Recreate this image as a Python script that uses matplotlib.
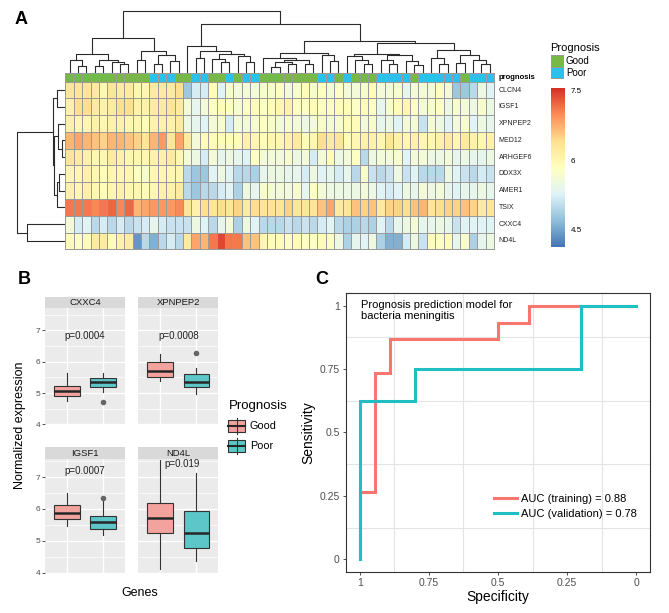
import numpy as np
import matplotlib
matplotlib.use('Agg')
import matplotlib.pyplot as plt
from matplotlib.colors import LinearSegmentedColormap, ListedColormap
from matplotlib.patches import Rectangle

plt.rcParams['font.family'] = ['Liberation Sans', 'DejaVu Sans']

W, H = 669, 613

# ---------------- panel A: heatmap data ----------------
genes = ['CLCN4', 'IGSF1', 'XPNPEP2', 'MED12', 'ARHGEF6', 'DDX3X', 'AMER1', 'TSIX', 'CXXC4', 'ND4L']
prognosis = ['Good'] * 10 + ['Poor'] * 3 + ['Good'] * 2 + ['Poor'] * 2 + ['Good'] * 2 + ['Poor'] + ['Good'] \
    + ['Poor'] * 2 + ['Good'] * 7 + ['Poor'] * 2 + ['Good'] + ['Poor'] + ['Good'] * 3 + ['Poor'] * 4 \
    + ['Good'] + ['Poor'] * 5 + ['Good'] + ['Poor'] * 3

clcn4 = [6.3, 6.3, 6.3, 6.2, 6.0, 6.3, 6.2, 6.2, 6.0, 6.0, 6.2, 6.2, 6.2, 6.4, 4.8, 5.2, 5.2,
         5.9, 5.3, 5.7, 5.6, 5.6, 5.6, 5.7, 5.7, 5.8, 5.6, 5.7, 5.9, 5.7, 5.8, 5.6, 5.8, 5.6,
         5.6, 5.7, 5.9, 5.6, 5.6, 5.7, 5.4, 5.6, 5.6, 5.6, 5.8, 5.6, 4.8, 4.8, 5.0, 5.5, 5.3]
igsf1 = [6.1, 6.4, 6.4, 6.2, 6.1, 6.2, 6.4, 6.4, 6.1, 6.1, 6.2, 6.2, 6.3, 6.2, 5.6, 5.4, 5.6,
         5.8, 5.9, 5.8, 5.7, 5.8, 5.9, 5.8, 5.9, 6.0, 6.1, 5.8, 5.8, 5.9, 5.8, 5.8, 5.9, 5.9,
         5.8, 5.9, 5.8, 5.4, 5.7, 5.9, 6.0, 5.8, 5.6, 5.7, 5.8, 5.5, 5.7, 5.6, 5.5, 5.7, 5.5]
xpnpep2 = [6.1, 6.0, 6.0, 6.1, 6.0, 6.1, 6.1, 6.0, 6.0, 5.9, 6.1, 6.1, 6.1, 6.2, 5.5, 5.4, 5.3,
           5.6, 5.7, 5.2, 5.6, 5.6, 5.7, 5.8, 5.7, 5.6, 5.7, 5.6, 5.5, 5.6, 5.7, 5.6, 5.7, 5.9,
           5.9, 5.6, 5.7, 5.4, 5.5, 5.3, 5.6, 5.6, 5.1, 5.6, 5.5, 5.3, 5.6, 5.7, 5.3, 5.5, 5.4]
med12 = [6.7, 6.8, 6.7, 6.6, 6.5, 6.7, 6.7, 6.6, 6.5, 6.3, 6.7, 6.9, 6.3, 6.8, 6.2, 5.6, 5.9,
         5.9, 5.9, 5.9, 5.9, 6.1, 6.0, 5.9, 6.0, 6.0, 6.1, 6.2, 5.9, 6.0, 6.4, 6.2, 6.3, 5.9,
         6.0, 6.1, 6.1, 6.0, 6.3, 6.1, 6.0, 6.1, 6.0, 6.0, 6.1, 6.2, 6.0, 6.2, 6.1, 6.0, 6.1]
arhgef6 = [6.3, 6.2, 6.1, 6.0, 6.0, 6.2, 6.1, 6.0, 6.0, 6.0, 6.1, 6.1, 6.2, 6.0, 5.6, 5.5, 5.2,
           5.6, 5.4, 5.5, 5.4, 5.3, 5.8, 5.6, 5.6, 5.6, 5.7, 5.5, 5.6, 5.2, 5.6, 5.9, 5.5, 5.6,
           5.8, 5.0, 5.5, 5.6, 5.6, 5.7, 5.3, 5.6, 5.6, 5.5, 5.5, 5.6, 5.4, 5.5, 5.4, 5.4, 5.5]
ddx3x = [6.0, 6.0, 6.1, 6.0, 5.9, 6.0, 6.0, 6.0, 5.8, 5.7, 6.0, 6.0, 6.0, 6.0, 5.0, 4.8, 4.8,
         5.3, 5.5, 5.3, 5.0, 5.0, 4.9, 5.4, 5.5, 5.5, 5.4, 5.4, 5.2, 5.5, 5.3, 5.4, 5.2, 5.4,
         5.0, 5.7, 5.1, 5.0, 5.1, 5.5, 5.1, 5.3, 5.0, 5.0, 5.0, 5.5, 5.3, 5.1, 5.0, 5.2, 5.1]
amer1 = [6.1, 6.0, 6.1, 6.0, 5.9, 6.0, 6.1, 6.0, 6.0, 5.9, 6.0, 6.1, 6.1, 6.2, 5.0, 4.8, 5.0,
         5.0, 5.2, 5.3, 4.9, 5.5, 5.4, 5.7, 5.6, 5.6, 5.6, 5.7, 5.4, 5.8, 5.6, 5.5, 5.5, 5.5,
         5.5, 5.6, 5.5, 5.3, 5.2, 5.3, 5.5, 5.4, 5.6, 5.5, 5.6, 5.4, 5.3, 5.4, 5.4, 5.5, 5.4]
tsix = [7.1, 7.1, 7.1, 7.0, 7.1, 7.2, 7.0, 7.2, 6.7, 6.8, 6.9, 6.9, 6.9, 7.0, 6.3, 6.1, 6.4,
        6.3, 6.4, 6.3, 6.5, 6.2, 6.4, 6.3, 6.3, 6.3, 6.5, 6.3, 6.3, 6.3, 6.6, 6.8, 6.2, 6.3,
        6.6, 6.5, 6.6, 6.2, 6.5, 6.5, 6.4, 6.6, 6.7, 6.3, 6.4, 6.5, 6.5, 6.6, 6.5, 6.2, 6.3]
cxxc4 = [5.6, 5.2, 5.3, 5.0, 5.2, 5.0, 5.2, 5.0, 5.1, 5.2, 5.4, 5.2, 5.1, 5.1, 5.1, 5.5, 5.3,
         5.0, 5.4, 5.6, 4.9, 5.5, 5.3, 5.0, 5.0, 5.0, 5.1, 5.0, 5.1, 5.0, 5.2, 5.3, 5.0, 4.9,
         4.9, 5.0, 4.9, 5.3, 5.0, 5.4, 5.5, 5.6, 5.4, 5.4, 5.5, 5.4, 5.1, 5.3, 5.3, 5.3, 5.3]
nd4l = [5.9, 5.8, 5.9, 6.2, 6.2, 5.9, 6.1, 6.2, 4.4, 5.0, 4.6, 5.0, 5.2, 5.0, 6.2, 6.8, 6.7,
        7.1, 7.4, 7.1, 7.1, 6.6, 6.6, 6.0, 5.9, 5.9, 5.8, 5.9, 5.8, 5.8, 5.9, 5.8, 5.5, 4.9,
        5.4, 5.3, 5.5, 4.9, 4.6, 4.6, 5.2, 5.5, 5.1, 5.9, 5.8, 5.9, 5.4, 5.7, 4.9, 5.4, 5.5]

# dendrograms: [left, right, merge height]
col_tree = [
    [[[0, [1, 2, 6.3], 12.7], [[3, 4, 6.3], [5, [6, 7, 8.7], 10.3], 12.7], 18.7],
     [[8, 9, 12], [[10, 11, 8.7], [12, 13, 11], 17.7], 21], 34.3],
    [[14, [[15, 16, 14.7], [[17, [18, 19, 10.3], 13.7], [20, [21, 22, 10.3], 16], 18.7], 21.3], 26],
     [[[23, [[[24, 25, 5.3], [26, 27, 8], 10.3], [28, 29, 8], 12.7], 14.7], [30, [31, 32, 11.3], 17], 19.3],
      [[[33, [34, [35, 36, 8], 12], 16], [[37, [38, 39, 8], 12], [40, [41, 42, 7], 11], 17], 18.7],
       [[43, [44, 45, 8], 14], [[46, 47, 9], [48, [49, 50, 8], 12], 17], 22], 29.3], 31.3], 48],
    61]
row_tree = [[[0, 1, 7.7], [[2, [3, 4, 3.3], 6.7], [[5, 6, 5.7], 7, 8.3], 10.7], 11.7], [8, 9, 38.3], 48.3]

# ---------------- panel B: boxplot data ----------------
box_genes = ['CXXC4', 'XPNPEP2', 'IGSF1', 'ND4L']
# low whisker, q1, median, q3, high whisker
good_stats = [[4.76, 4.89, 5.05, 5.21, 5.65],
              [5.39, 5.52, 5.71, 6.00, 6.23],
              [5.48, 5.70, 5.88, 6.13, 6.50],
              [4.13, 5.25, 5.72, 6.20, 7.55]]
poor_stats = [[5.02, 5.18, 5.36, 5.49, 5.65],
              [4.97, 5.20, 5.36, 5.62, 5.81],
              [5.18, 5.38, 5.60, 5.77, 6.27],
              [4.38, 4.78, 5.25, 5.95, 7.12]]
poor_outliers = [[4.71], [6.26], [6.33], []]
p_labels = ['p=0.0004', 'p=0.0008', 'p=0.0007', 'p=0.019']
p_x = [1.5, 1.5, 1.5, 1.6]
p_y = [6.83, 6.83, 7.18, 7.40]

# ---------------- panel C: ROC data ----------------
train_spec = [1, 1, 0.944, 0.944, 0.889, 0.889, 0.5, 0.5, 0.389, 0.389, 0]
train_sens = [0, 0.267, 0.267, 0.733, 0.733, 0.867, 0.867, 0.933, 0.933, 1, 1]
valid_spec = [1, 1, 0.8, 0.8, 0.2, 0.2, 0]
valid_sens = [0, 0.625, 0.625, 0.75, 0.75, 1, 1]

fig = plt.figure(figsize=(W / 100, H / 100), dpi=100)


def px_axes(x0, y0, x1, y1):
    return fig.add_axes([x0 / W, 1 - y1 / H, (x1 - x0) / W, (y1 - y0) / H])


def draw_tree(ax, node, vertical=True):
    if isinstance(node, int):
        return node + 0.5, 0.0
    left, right, h = node
    pl, hl = draw_tree(ax, left, vertical)
    pr, hr = draw_tree(ax, right, vertical)
    a = [pl, pl, pr, pr]
    b = [hl, h, h, hr]
    if vertical:
        ax.plot(a, b, color='#2b2b2b', lw=0.8)
    else:
        ax.plot(b, a, color='#2b2b2b', lw=0.8)
    return (pl + pr) / 2, h


# ================= A =================
cmap = LinearSegmentedColormap.from_list(
    'rdylbu', ['#4575B4', '#91BFDB', '#E0F3F8', '#FFFFBF', '#FEE090', '#FC8D59', '#D73027'])
vmin, vmax = 4.14, 7.54
expr = np.array([clcn4, igsf1, xpnpep2, med12, arhgef6, ddx3x, amer1, tsix, cxxc4, nd4l])
ncol = expr.shape[1]

ax_hm = px_axes(65.3, 81.7, 494, 249.3)
mesh = ax_hm.pcolormesh(expr, cmap=cmap, vmin=vmin, vmax=vmax, edgecolors='#9a9a9a', linewidth=0.7)
mesh.set_clip_on(False)
ax_hm.set_xlim(0, ncol)
ax_hm.set_ylim(len(genes), 0)
ax_hm.axis('off')
for i, g in enumerate(genes):
    ax_hm.text(ncol + 0.55, i + 0.5, g, fontsize=5, va='center', ha='left', color='#222222')

ax_an = px_axes(65.3, 73.3, 494, 81.7)
codes = np.array([[0 if p == 'Good' else 1 for p in prognosis]])
an = ax_an.pcolormesh(codes, cmap=ListedColormap(['#76B947', '#2CC0EC']), vmin=0, vmax=1,
                      edgecolors='#9a9a9a', linewidth=0.7)
an.set_clip_on(False)
ax_an.set_xlim(0, ncol)
ax_an.set_ylim(1, 0)
ax_an.axis('off')
ax_an.text(ncol + 0.55, 0.5, 'prognosis', fontsize=5.5, fontweight='bold', va='center', ha='left')

ax_cd = px_axes(65.3, 8, 494, 73.3)
draw_tree(ax_cd, col_tree, vertical=True)
ax_cd.set_xlim(0, ncol)
ax_cd.set_ylim(-0.8, 64)
ax_cd.axis('off')

ax_rd = px_axes(14, 81.7, 65.3, 249.3)
draw_tree(ax_rd, row_tree, vertical=False)
ax_rd.set_xlim(51, -0.3)
ax_rd.set_ylim(len(genes), 0)
ax_rd.axis('off')

# annotation legend
fig.text(550 / W, 1 - 48 / H, 'Prognosis', fontsize=8, va='center', ha='left')
ax_al = px_axes(550.7, 55, 563.3, 78.3)
al = ax_al.pcolormesh(np.array([[0], [1]]), cmap=ListedColormap(['#76B947', '#2CC0EC']),
                      vmin=0, vmax=1, edgecolors='#9a9a9a', linewidth=0.7)
al.set_clip_on(False)
ax_al.set_ylim(2, 0)
ax_al.axis('off')
fig.text(566 / W, 1 - 60.5 / H, 'Good', fontsize=7, va='center', ha='left')
fig.text(566 / W, 1 - 72.5 / H, 'Poor', fontsize=7, va='center', ha='left')

cax = px_axes(550.7, 88.3, 565.3, 246.7)
cb = fig.colorbar(mesh, cax=cax, ticks=[4.5, 6, 7.5])
cb.outline.set_visible(False)
cb.ax.set_yticklabels(['4.5', '6', '7.5'])
cb.ax.tick_params(length=0, pad=4, labelsize=5.8)

fig.text(15 / W, 1 - 20 / H, 'A', fontsize=13, fontweight='bold', va='center', ha='left')

# ================= B =================
pink, teal = '#F3A39E', '#5CC6C8'
panels_B = [(45, 308.3, 125, 425), (138.3, 308.3, 218.3, 425),
            (45, 459, 125, 573.3), (138.3, 459, 218.3, 573.3)]
ylims_B = [(3.98, 7.70), (3.98, 7.70), (3.98, 7.57), (3.98, 7.57)]

for k, g in enumerate(box_genes):
    x0, y0, x1, y1 = panels_B[k]
    ax = px_axes(x0, y0, x1, y1)
    ax.set_facecolor('#EBEBEB')
    ax.set_xlim(0.4, 2.6)
    ax.set_ylim(*ylims_B[k])
    for v in [4.5, 5.5, 6.5, 7.5]:
        ax.axhline(v, color='white', lw=0.5, zorder=0)
    for v in [4, 5, 6, 7]:
        ax.axhline(v, color='white', lw=1.0, zorder=0)
    for v in [1, 2]:
        ax.axvline(v, color='white', lw=1.0, zorder=0)
    stats = []
    for s, fl in [(good_stats[k], []), (poor_stats[k], poor_outliers[k])]:
        stats.append(dict(whislo=s[0], q1=s[1], med=s[2], q3=s[3], whishi=s[4], fliers=fl))
    bp = ax.bxp(stats, positions=[1, 2], widths=0.7, patch_artist=True, showcaps=False,
                boxprops=dict(edgecolor='#333333', linewidth=0.8),
                whiskerprops=dict(color='#333333', linewidth=0.8),
                medianprops=dict(color='#262626', linewidth=1.8),
                flierprops=dict(marker='o', markerfacecolor='#666666', markeredgecolor='#666666',
                                markersize=3))
    for patch, c in zip(bp['boxes'], [pink, teal]):
        patch.set_facecolor(c)
    ax.text(p_x[k], p_y[k], p_labels[k], fontsize=7, ha='center', va='center', color='#222222')
    for sp in ax.spines.values():
        sp.set_visible(False)
    ax.set_xticks([])
    if k % 2 == 0:
        ax.set_yticks([4, 5, 6, 7])
        ax.tick_params(axis='y', length=2, width=0.6, color='#333333', labelsize=6,
                       labelcolor='#4D4D4D', pad=1.5)
    else:
        ax.set_yticks([])
    sax = px_axes(x0, y0 - 11.6, x1, y0)
    sax.set_facecolor('#D9D9D9')
    sax.set_xticks([])
    sax.set_yticks([])
    for sp in sax.spines.values():
        sp.set_visible(False)
    sax.text(0.5, 0.5, g, fontsize=6.8, ha='center', va='center', color='#1A1A1A',
             transform=sax.transAxes)

fig.text(20 / W, 1 - 425 / H, 'Normalized expression', fontsize=9, rotation=90,
         va='center', ha='center')
fig.text(140 / W, 1 - 593 / H, 'Genes', fontsize=9, va='center', ha='center')

# legend for B
fig.text(229 / W, 1 - 406 / H, 'Prognosis', fontsize=9.5, va='center', ha='left')
lax = px_axes(226, 416, 247, 456)
lax.set_xlim(0, 1)
lax.set_ylim(2, 0)
lax.axis('off')
for i, c in enumerate([pink, teal]):
    lax.plot([0.5, 0.5], [i + 0.08, i + 0.92], color='#333333', lw=0.8)
    lax.add_patch(Rectangle((0.1, i + 0.22), 0.8, 0.56, facecolor=c, edgecolor='#333333', lw=0.8))
    lax.plot([0.1, 0.9], [i + 0.5, i + 0.5], color='#262626', lw=1.5)
fig.text(250 / W, 1 - 426 / H, 'Good', fontsize=7.8, va='center', ha='left')
fig.text(250 / W, 1 - 446 / H, 'Poor', fontsize=7.8, va='center', ha='left')

fig.text(18 / W, 1 - 279 / H, 'B', fontsize=13, fontweight='bold', va='center', ha='left')

# ================= C =================
axc = px_axes(346, 293, 650, 572)
axc.set_xlim(1.05, -0.05)
axc.set_ylim(-0.05, 1.05)
for v in [0.125, 0.375, 0.625, 0.875]:
    axc.axhline(v, color='#E3E3E3', lw=0.8, zorder=0)
    axc.axvline(v, color='#E3E3E3', lw=0.8, zorder=0)
axc.plot(train_spec, train_sens, color='#F8766D', lw=2.2, label='AUC (training) = 0.88',
         solid_joinstyle='miter')
axc.plot(valid_spec, valid_sens, color='#1FBFC3', lw=2.2, label='AUC (validation) = 0.78',
         solid_joinstyle='miter')
ticks = [1, 0.75, 0.5, 0.25, 0]
tick_lbl = ['1', '0.75', '0.5', '0.25', '0']
axc.set_xticks(ticks)
axc.set_xticklabels(tick_lbl)
axc.set_yticks(ticks)
axc.set_yticklabels(tick_lbl)
axc.tick_params(length=2.5, width=0.6, color='#333333', labelsize=7.5, labelcolor='#4D4D4D', pad=2)
for sp in axc.spines.values():
    sp.set_color('#333333')
    sp.set_linewidth(0.8)
axc.set_xlabel('Specificity', fontsize=10, labelpad=1)
axc.set_ylabel('Sensitivity', fontsize=10, labelpad=3)
axc.text(0.05, 0.975, 'Prognosis prediction model for\nbacteria meningitis', fontsize=8,
         va='top', ha='left', transform=axc.transAxes, linespacing=1.1)
axc.legend(loc='lower left', bbox_to_anchor=(0.47, 0.17), frameon=False, fontsize=8,
           handlelength=2.0, handletextpad=0.4, labelspacing=0.45, borderpad=0)

fig.text(315 / W, 1 - 279 / H, 'C', fontsize=13, fontweight='bold', va='center', ha='left')

fig.savefig('out.png', dpi=100)
